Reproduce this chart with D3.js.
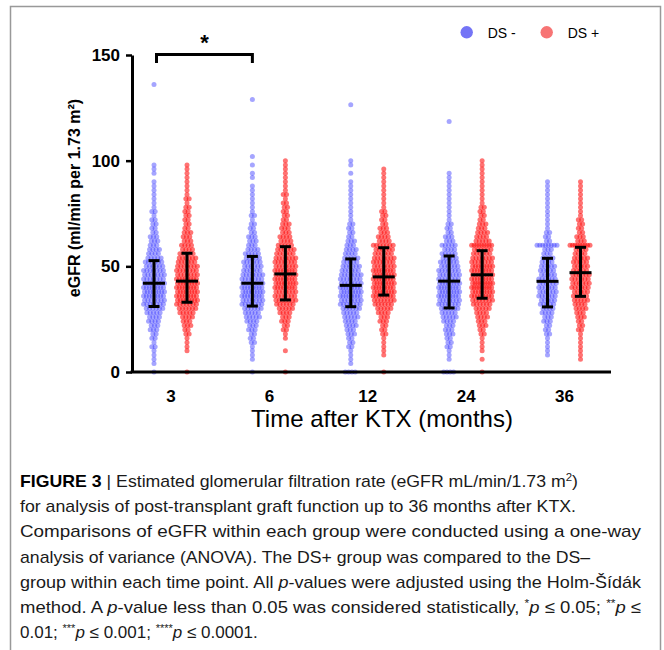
<!DOCTYPE html>
<html>
<head>
<meta charset="utf-8">
<script src="https://cdn.jsdelivr.net/npm/d3@7"></script>
<style>
  html, body { margin: 0; padding: 0; background: #fff; }
  svg { display: block; font-family: "Liberation Sans", Arial, sans-serif; }
</style>
</head>
<body>
<svg id="chart" width="664" height="650"></svg>
<script>
'use strict';

// ------------------------------------
// DATA
// ------------------------------------
const months = ["3", "6", "12", "24", "36"];
const groupNames = ["DS -", "DS +"];
const levelStep = 2; // counts are per 2 ml/min eGFR level, starting at 0

// DS- : number of patients at each eGFR level, per time point
const countsNeg = [
  [1,0,1,1,1,1,2,1,2,2, 3,3,4,4,5,6,7,7,8,8, 8,8,7,7,7,6,6,5,4,4, 3,3,3,2,2,2,2,1,2,1, 1,1,1,1,1,1,0,1,1,1],
  [1,0,0,1,1,1,1,2,2,2, 3,3,4,5,5,6,7,7,8,8, 8,7,7,7,6,6,6,5,5,4, 3,3,3,2,2,2,1,2,1,1, 1,1,1,1,1,0,1,1,0,1, 0,1],
  [4,0,1,1,1,1,2,2,2,3, 3,4,4,5,5,6,7,7,8,8, 8,7,7,7,6,6,5,5,4,4, 3,3,2,2,2,2,1,1,1,1, 1,1,1,1,1,1,0,1,0,1, 1],
  [4,0,0,1,1,1,2,2,2,3, 3,3,4,5,5,6,7,7,8,8, 8,8,7,7,7,6,6,5,5,4, 5,3,3,2,2,2,1,1,1,1, 1,1,1,1,1,1,1,1],
  [0,0,0,0,1,1,1,1,1,2, 2,2,3,3,4,4,5,5,6,6, 6,6,6,5,5,5,4,4,3,3, 8,2,2,2,1,1,1,1,1,1, 1,1,1,1,1,1]
];
// DS+ : same layout
const countsPos = [
  [1,0,0,0,0,1,1,1,1,2, 2,3,3,4,5,6,7,8,8,8, 8,8,8,7,7,7,6,6,5,4, 4,3,3,3,2,2,2,2,2,2, 1,2,1,1,1,1,1,1,1,1],
  [1,0,0,0,0,1,0,0,1,1, 2,2,3,3,4,5,6,7,7,7, 8,8,8,8,8,7,7,7,6,6, 5,4,4,3,3,3,2,2,2,2, 2,1,2,1,1,1,1,1,1,1, 1],
  [1,0,0,0,1,1,1,1,1,2, 2,2,3,3,4,5,6,7,8,8, 8,8,8,8,8,7,7,7,6,6, 7,4,4,3,3,2,2,2,2,1, 1,1,1,1,1,1,1,1,1],
  [1,0,0,1,0,1,1,1,1,2, 2,3,3,4,4,5,6,7,8,8, 9,9,8,8,8,8,7,7,6,6, 9,5,4,4,3,3,2,2,2,2, 1,1,1,1,1,1,1,1,1,1, 1],
  [0,0,0,1,1,1,1,1,1,1, 2,2,2,3,3,4,4,5,5,5, 6,6,6,6,5,5,5,5,4,4, 9,3,3,2,2,2,2,1,1,1, 1,1,1,1,1,1]
];
// single high values above the main clouds
const outliersNeg = [[136], [129], [126.5], [118.5], []];
const outliersPos = [[], [], [], [], []];

// median with error bar (lower / upper) per time point
const medianNeg = [42, 42, 41, 43, 42.9];
const lowNeg = [31, 31.2, 30.9, 30.3, 30.8];
const highNeg = [52.7, 54.7, 53.5, 54.9, 53.8];
const medianPos = [43, 46.4, 45, 46, 47];
const lowPos = [33, 34.1, 36.4, 34.9, 35.8];
const highPos = [56.2, 59.3, 58.8, 57.4, 59];

const yTicks = [0, 50, 100, 150];

// ------------------------------------
// SETUP
// ------------------------------------
const svg = d3.select("#chart");
const colorFill = ["#1e1eff", "#ff0000"];
const colorOpacity = [0.4, 0.55];
const legendColor = ["#7474f6", "#f77474"];

const axisX0 = 132, axisX1 = 611;
const yScale = d3.scaleLinear().domain([0, 150]).range([372, 55]);
const xScale = d3.scalePoint().domain(months).range([170.5, 564]);
const groupOffset = [-16.5, 16.5];

// frame around the figure
svg.append("path")
  .attr("d", `M10.5,650 V6.5 H660.5 V650`)
  .attr("fill", "none")
  .attr("stroke", "#999")
  .attr("stroke-width", 1.5);

// ------------------------------------
// POINTS (rows per eGFR level, spread sideways)
// ------------------------------------
function buildPoints(counts, outliers, gi) {
  const pts = [];
  counts.forEach((arr, mi) => {
    const rows = arr.map((n, li) => ({ v: li * levelStep, n }));
    outliers[mi].forEach(v => rows.push({ v, n: 1 }));
    rows.forEach((row, ri) => {
      const n = row.n;
      if (!n) return;
      const s = n > 1 ? Math.min(3.3, 20 / (n - 1)) : 0;
      const shift = n > 1 ? ((ri % 2) - 0.5) * 1.0 : 0;
      for (let j = 0; j < n; j++) {
        pts.push({ month: months[mi], g: gi, v: row.v, dx: (j - (n - 1) / 2) * s + shift });
      }
    });
  });
  return pts;
}

const allPoints = buildPoints(countsNeg, outliersNeg, 0)
  .concat(buildPoints(countsPos, outliersPos, 1));

svg.append("g").attr("class", "points")
  .selectAll("circle")
  .data(allPoints)
  .join("circle")
  .attr("cx", d => xScale(d.month) + groupOffset[d.g] + d.dx)
  .attr("cy", d => yScale(d.v))
  .attr("r", 2.5)
  .attr("fill", d => colorFill[d.g])
  .attr("fill-opacity", d => colorOpacity[d.g]);

// ------------------------------------
// MEDIAN + ERROR BARS
// ------------------------------------
const stats = months.flatMap((m, i) => [
  { month: m, g: 0, med: medianNeg[i], lo: lowNeg[i], hi: highNeg[i] },
  { month: m, g: 1, med: medianPos[i], lo: lowPos[i], hi: highPos[i] }
]);

const gStats = svg.append("g").attr("stroke", "#000").attr("stroke-width", 3).attr("fill", "none");
stats.forEach(d => {
  const cx = xScale(d.month) + groupOffset[d.g];
  gStats.append("line").attr("x1", cx).attr("x2", cx).attr("y1", yScale(d.lo)).attr("y2", yScale(d.hi));
  gStats.append("line").attr("x1", cx - 11).attr("x2", cx + 11).attr("y1", yScale(d.med)).attr("y2", yScale(d.med));
  gStats.append("line").attr("x1", cx - 5.5).attr("x2", cx + 5.5).attr("y1", yScale(d.lo)).attr("y2", yScale(d.lo));
  gStats.append("line").attr("x1", cx - 5.5).attr("x2", cx + 5.5).attr("y1", yScale(d.hi)).attr("y2", yScale(d.hi));
});

// ------------------------------------
// AXES
// ------------------------------------
const yAxis = svg.append("g")
  .attr("transform", `translate(${axisX0},0)`)
  .call(d3.axisLeft(yScale).tickValues(yTicks).tickSize(6).tickSizeOuter(0).tickPadding(6));
yAxis.select(".domain").attr("stroke-width", 3);
yAxis.selectAll(".tick line").attr("stroke-width", 2.5);
yAxis.selectAll(".tick text")
  .attr("font-size", 17).attr("font-weight", "bold").attr("fill", "#000")
  .attr("font-family", "'Liberation Sans', Arial, sans-serif");

svg.append("line")
  .attr("x1", axisX0 - 1.5).attr("x2", axisX1)
  .attr("y1", yScale(0)).attr("y2", yScale(0))
  .attr("stroke", "#000").attr("stroke-width", 3);

const xAxis = svg.append("g")
  .attr("transform", `translate(0,${yScale(0)})`)
  .call(d3.axisBottom(xScale).tickSize(0).tickPadding(18));
xAxis.select(".domain").remove();
xAxis.selectAll(".tick text")
  .attr("font-size", 17).attr("font-weight", "bold").attr("fill", "#000")
  .attr("font-family", "'Liberation Sans', Arial, sans-serif");

svg.append("text")
  .attr("transform", "translate(80,198) rotate(-90)")
  .attr("text-anchor", "middle")
  .attr("font-size", 16).attr("font-weight", "bold")
  .text("eGFR (ml/min per 1.73 m²)");

svg.append("text")
  .attr("x", 382).attr("y", 427)
  .attr("text-anchor", "middle")
  .attr("font-size", 24)
  .text("Time after KTX (months)");

// significance bracket 3 vs 6 months
const bx0 = xScale("3") + groupOffset[0] + 2.5;
const bx1 = xScale("6") + groupOffset[0];
svg.append("path")
  .attr("d", `M${bx0},63 V54.5 H${bx1} V63`)
  .attr("fill", "none").attr("stroke", "#000").attr("stroke-width", 3);
svg.append("text")
  .attr("x", (bx0 + bx1) / 2).attr("y", 50)
  .attr("text-anchor", "middle")
  .attr("font-size", 22).attr("font-weight", "bold")
  .text("*");

// ------------------------------------
// LEGEND
// ------------------------------------
const legend = svg.append("g");
groupNames.forEach((name, i) => {
  const lx = 466.7 + i * 80;
  legend.append("circle").attr("cx", lx).attr("cy", 32.3).attr("r", 6.2).attr("fill", legendColor[i]);
  legend.append("text").attr("x", lx + 21).attr("y", 37.5).attr("font-size", 14).text(name);
});

// ------------------------------------
// CAPTION
// ------------------------------------
const captionLines = [
  [["FIGURE 3", "b"], [" | Estimated glomerular filtration rate (eGFR mL/min/1.73 m", ""], ["2", "sup"], [")", ""]],
  [["for analysis of post-transplant graft function up to 36 months after KTX.", ""]],
  [["Comparisons of eGFR within each group were conducted using a one-way", ""]],
  [["analysis of variance (ANOVA). The DS+ group was compared to the DS–", ""]],
  [["group within each time point. All ", ""], ["p", "i"], ["-values were adjusted using the Holm-Šídák", ""]],
  [["method. A ", ""], ["p", "i"], ["-value less than 0.05 was considered statistically, ", ""], ["*", "sup"], ["p", "i"], [" ≤ 0.05; ", ""], ["**", "sup"], ["p", "i"], [" ≤", ""]],
  [["0.01; ", ""], ["***", "sup"], ["p", "i"], [" ≤ 0.001; ", ""], ["****", "sup"], ["p", "i"], [" ≤ 0.0001.", ""]]
];
// right end of each caption line (last line keeps its natural width)
const captionEnds = [578, 576, 641, 590, 641, 641, null];

const caption = svg.append("g")
  .attr("font-family", "'Liberation Sans Narrow', 'Liberation Sans', Arial, sans-serif")
  .attr("font-size", 17)
  .attr("fill", "#1a1a1a");

captionLines.forEach((segs, i) => {
  const t = caption.append("text")
    .attr("x", 20)
    .attr("y", 487 + i * 25.2);
  if (captionEnds[i]) {
    t.attr("textLength", captionEnds[i] - 20).attr("lengthAdjust", "spacingAndGlyphs");
  }
  segs.forEach(([txt, style]) => {
    const ts = t.append("tspan").text(txt);
    if (style === "b") ts.attr("font-weight", "bold").attr("fill", "#000");
    if (style === "i") ts.attr("font-style", "italic");
    if (style === "sup") ts.attr("font-size", 11).attr("baseline-shift", "super");
  });
});
</script>
</body>
</html>
